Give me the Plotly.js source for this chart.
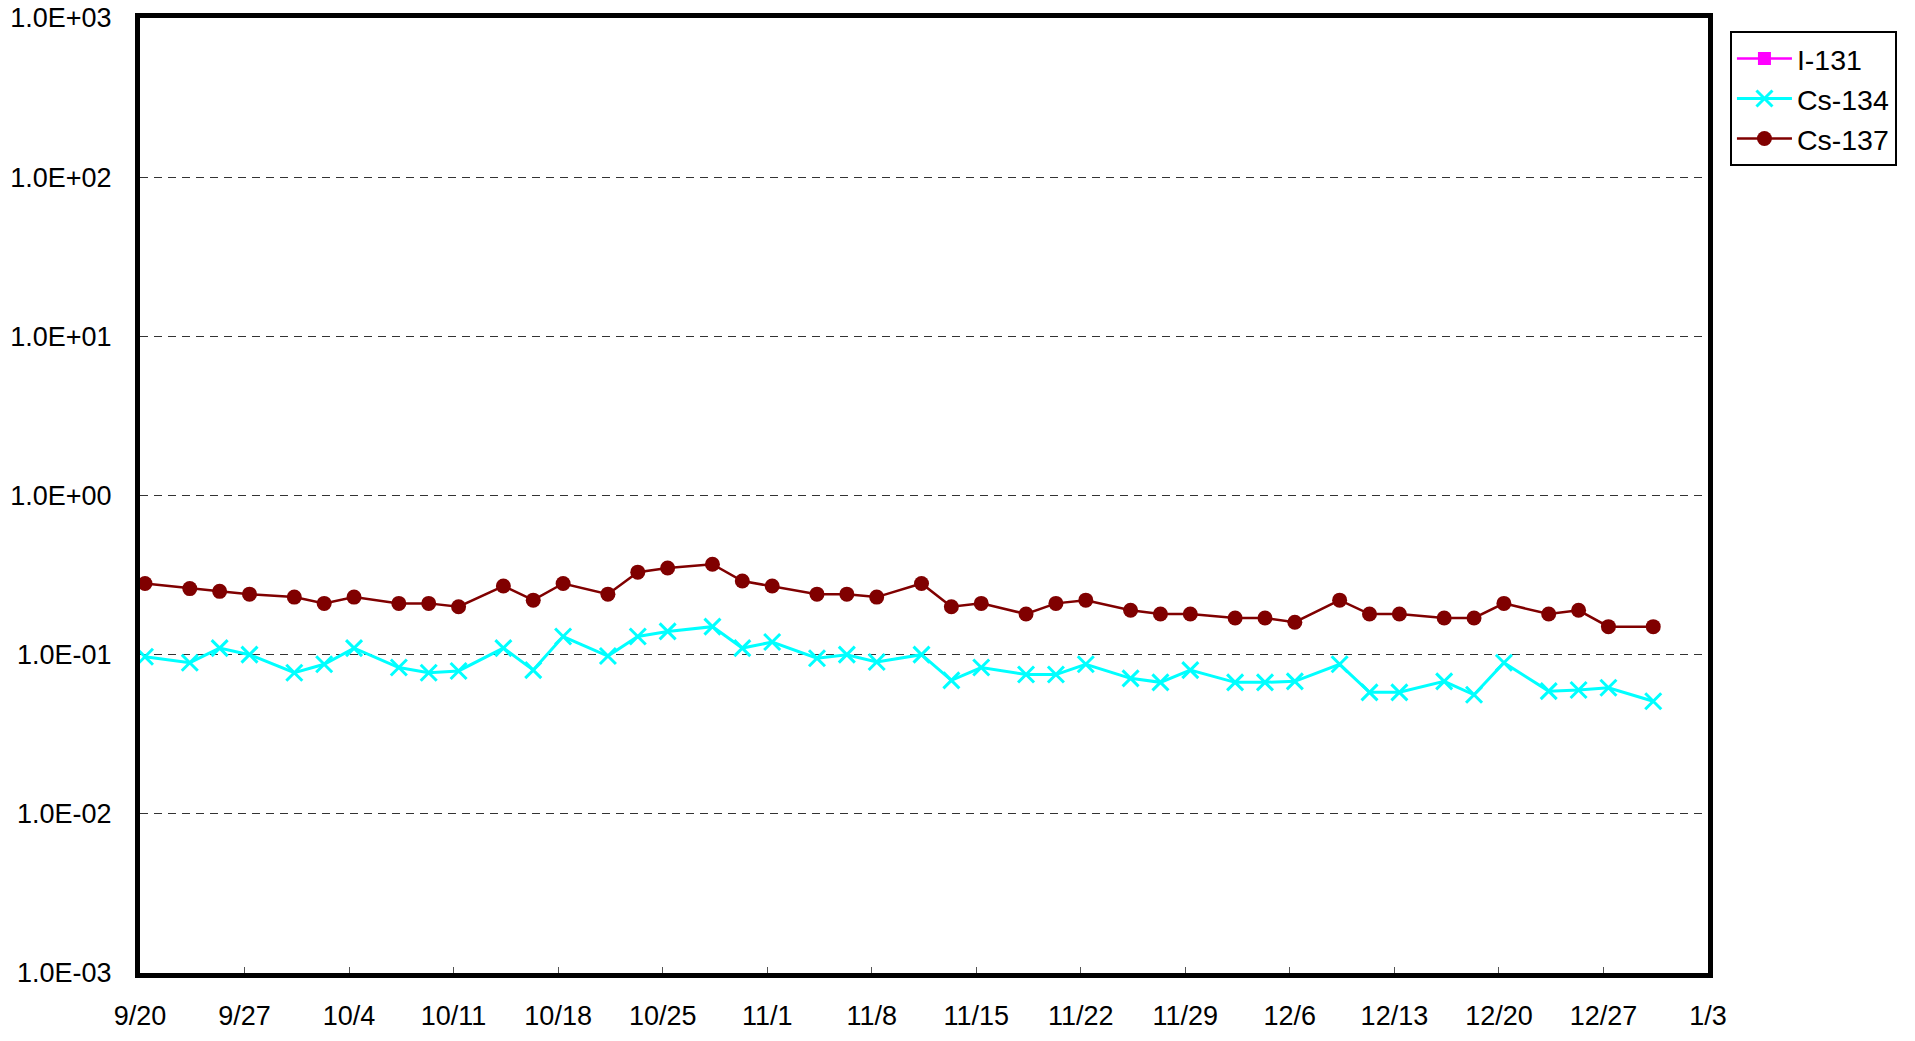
<!DOCTYPE html>
<html>
<head>
<meta charset="utf-8">
<script src="https://cdn.plot.ly/plotly-3.0.1.min.js"></script>
<style>
  html, body { margin: 0; padding: 0; background: #ffffff; }
  #chart { width: 1915px; height: 1041px; }
</style>
</head>
<body>
<div id="chart"></div>
<script>
// Sampling dates (2011-09-20 .. 2011-12-30)
const sampleDates = [
  "2011-09-20","2011-09-23","2011-09-25","2011-09-27","2011-09-30","2011-10-02","2011-10-04",
  "2011-10-07","2011-10-09","2011-10-11","2011-10-14","2011-10-16","2011-10-18","2011-10-21",
  "2011-10-23","2011-10-25","2011-10-28","2011-10-30","2011-11-01","2011-11-04","2011-11-06",
  "2011-11-08","2011-11-11","2011-11-13","2011-11-15","2011-11-18","2011-11-20","2011-11-22",
  "2011-11-25","2011-11-27","2011-11-29","2011-12-02","2011-12-04","2011-12-06","2011-12-09",
  "2011-12-11","2011-12-13","2011-12-16","2011-12-18","2011-12-20","2011-12-23","2011-12-25",
  "2011-12-27","2011-12-30"
];
const sampleTime = " 08:00";

// I-131: not detected (no plotted values)
const i131Values = [null];

const cs134Values = [
  0.097, 0.089, 0.11, 0.10, 0.077, 0.087, 0.11,
  0.083, 0.077, 0.079, 0.11, 0.080, 0.13, 0.098,
  0.13, 0.14, 0.15, 0.11, 0.12, 0.095, 0.10,
  0.090, 0.10, 0.069, 0.083, 0.075, 0.075, 0.087,
  0.071, 0.067, 0.080, 0.067, 0.067, 0.068, 0.087,
  0.058, 0.058, 0.068, 0.056, 0.089, 0.059, 0.060,
  0.062, 0.051
];

const cs137Values = [
  0.28, 0.26, 0.25, 0.24, 0.23, 0.21, 0.23,
  0.21, 0.21, 0.20, 0.27, 0.22, 0.28, 0.24,
  0.33, 0.35, 0.37, 0.29, 0.27, 0.24, 0.24,
  0.23, 0.28, 0.20, 0.21, 0.18, 0.21, 0.22,
  0.19, 0.18, 0.18, 0.17, 0.17, 0.16, 0.22,
  0.18, 0.18, 0.17, 0.17, 0.21, 0.18, 0.19,
  0.15, 0.15
];

// Axis ticks
const xTickDates = [
  "2011-09-20","2011-09-27","2011-10-04","2011-10-11","2011-10-18","2011-10-25","2011-11-01",
  "2011-11-08","2011-11-15","2011-11-22","2011-11-29","2011-12-06","2011-12-13","2011-12-20",
  "2011-12-27","2012-01-03"
];
const xTickLabels = [
  "9/20","9/27","10/4","10/11","10/18","10/25","11/1","11/8","11/15","11/22","11/29",
  "12/6","12/13","12/20","12/27","1/3"
];
const yTickValues = [1e-3, 1e-2, 1e-1, 1e0, 1e1, 1e2, 1e3];
const yTickLabels = ["1.0E-03","1.0E-02","1.0E-01","1.0E+00","1.0E+01","1.0E+02","1.0E+03"];

const xs = sampleDates.map(d => d + sampleTime);
const FONT = "Liberation Sans, Arial, sans-serif";

const traces = [
  {
    name: "I-131", type: "scatter", mode: "lines+markers", showlegend: true,
    x: xs.slice(0, i131Values.length), y: i131Values,
    line: { color: "#FF00FF", width: 2.5 },
    marker: { symbol: "square", size: 13, color: "#FF00FF" }
  },
  {
    name: "Cs-134", type: "scatter", mode: "lines+markers",
    x: xs, y: cs134Values,
    line: { color: "#00FFFF", width: 3 },
    marker: { symbol: "x-thin", size: 16, color: "#00FFFF", line: { color: "#00FFFF", width: 3 } }
  },
  {
    name: "Cs-137", type: "scatter", mode: "lines+markers",
    x: xs, y: cs137Values,
    line: { color: "#800000", width: 2.5 },
    marker: { symbol: "circle", size: 15, color: "#800000" }
  }
];

const layout = {
  width: 1915, height: 1041,
  paper_bgcolor: "#ffffff", plot_bgcolor: "#ffffff",
  margin: { l: 140, r: 207, t: 18, b: 68, pad: 0 },
  font: { family: FONT, size: 27, color: "#000000" },
  showlegend: true,
  legend: {
    x: 1.014, y: 0.986, xanchor: "left", yanchor: "top",
    bordercolor: "#000000", borderwidth: 2, bgcolor: "#ffffff",
    font: { family: FONT, size: 28.5, color: "#000000" },
    itemwidth: 55, tracegroupgap: 0
  },
  xaxis: {
    type: "date",
    range: ["2011-09-20", "2012-01-03"],
    tickmode: "array", tickvals: xTickDates, ticktext: xTickLabels,
    ticks: "inside", ticklen: 6, tickwidth: 1, tickcolor: "#555555",
    showline: true, linecolor: "#000000", linewidth: 5, mirror: true,
    showgrid: false, zeroline: false,
    ticklabelstandoff: 15,
    tickfont: { family: FONT, size: 27, color: "#000000" }
  },
  yaxis: {
    type: "log",
    range: [-3, 3],
    tickmode: "array", tickvals: yTickValues, ticktext: yTickLabels,
    ticks: "",
    showline: true, linecolor: "#000000", linewidth: 5, mirror: true,
    showgrid: true, gridcolor: "#333333", gridwidth: 1, griddash: "8px,6px",
    zeroline: false,
    ticklabelstandoff: 18,
    tickfont: { family: FONT, size: 27, color: "#000000" }
  }
};

Plotly.newPlot("chart", traces, layout, { displayModeBar: false, staticPlot: true });
</script>
</body>
</html>
